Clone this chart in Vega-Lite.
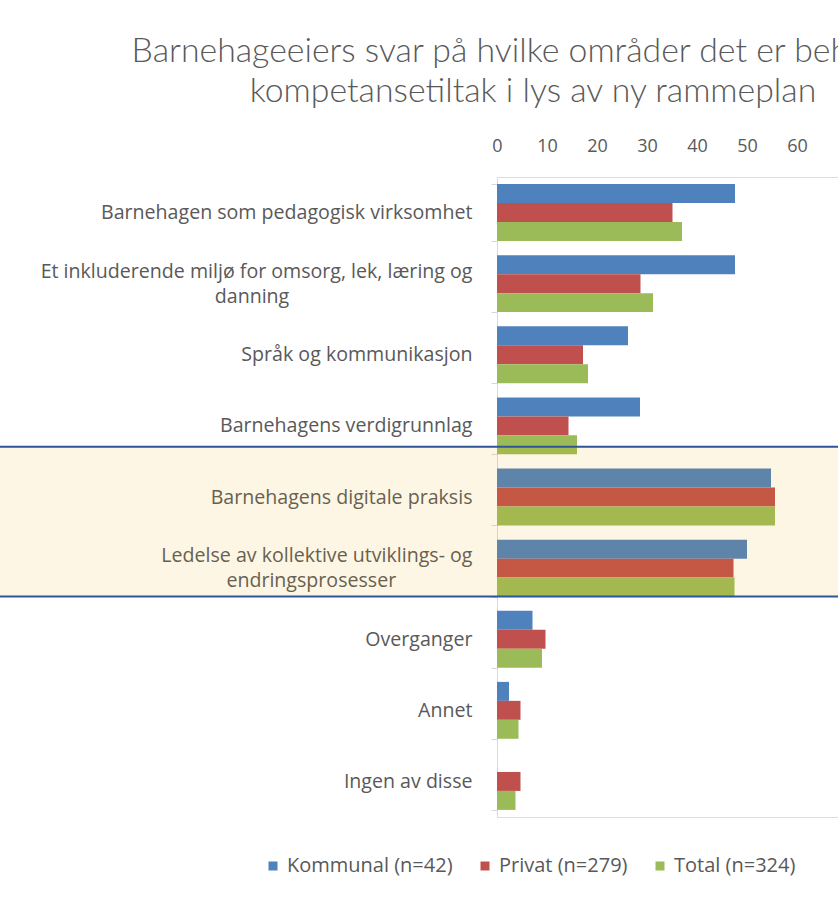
{
  "$schema": "https://vega.github.io/schema/vega-lite/v6.json",
  "autosize": {"type": "none"},
  "padding": {"left": 497, "top": 177, "right": 0, "bottom": 86},
  "width": 350,
  "height": 640,
  "background": "white",
  "title": {
    "text": ["Barnehageeiers svar på hvilke områder det er behov for", "kompetansetiltak i lys av ny rammeplan"],
    "font": "Lato",
    "fontSize": 33.8,
    "fontWeight": 300,
    "color": "#595959",
    "lineHeight": 40,
    "anchor": "middle",
    "dx": -139,
    "offset": 28
  },
  "data": {
    "values": [
      {"kategori": "Barnehagen som pedagogisk virksomhet", "gruppe": "Kommunal (n=42)", "prosent": 47.6},
      {"kategori": "Barnehagen som pedagogisk virksomhet", "gruppe": "Privat (n=279)", "prosent": 35.1},
      {"kategori": "Barnehagen som pedagogisk virksomhet", "gruppe": "Total (n=324)", "prosent": 37.0},
      {"kategori": "Et inkluderende miljø for omsorg, lek, læring og danning", "gruppe": "Kommunal (n=42)", "prosent": 47.6},
      {"kategori": "Et inkluderende miljø for omsorg, lek, læring og danning", "gruppe": "Privat (n=279)", "prosent": 28.7},
      {"kategori": "Et inkluderende miljø for omsorg, lek, læring og danning", "gruppe": "Total (n=324)", "prosent": 31.2},
      {"kategori": "Språk og kommunikasjon", "gruppe": "Kommunal (n=42)", "prosent": 26.2},
      {"kategori": "Språk og kommunikasjon", "gruppe": "Privat (n=279)", "prosent": 17.2},
      {"kategori": "Språk og kommunikasjon", "gruppe": "Total (n=324)", "prosent": 18.2},
      {"kategori": "Barnehagens verdigrunnlag", "gruppe": "Kommunal (n=42)", "prosent": 28.6},
      {"kategori": "Barnehagens verdigrunnlag", "gruppe": "Privat (n=279)", "prosent": 14.3},
      {"kategori": "Barnehagens verdigrunnlag", "gruppe": "Total (n=324)", "prosent": 16.0},
      {"kategori": "Barnehagens digitale praksis", "gruppe": "Kommunal (n=42)", "prosent": 54.8},
      {"kategori": "Barnehagens digitale praksis", "gruppe": "Privat (n=279)", "prosent": 55.6},
      {"kategori": "Barnehagens digitale praksis", "gruppe": "Total (n=324)", "prosent": 55.6},
      {"kategori": "Ledelse av kollektive utviklings- og endringsprosesser", "gruppe": "Kommunal (n=42)", "prosent": 50.0},
      {"kategori": "Ledelse av kollektive utviklings- og endringsprosesser", "gruppe": "Privat (n=279)", "prosent": 47.3},
      {"kategori": "Ledelse av kollektive utviklings- og endringsprosesser", "gruppe": "Total (n=324)", "prosent": 47.5},
      {"kategori": "Overganger", "gruppe": "Kommunal (n=42)", "prosent": 7.1},
      {"kategori": "Overganger", "gruppe": "Privat (n=279)", "prosent": 9.7},
      {"kategori": "Overganger", "gruppe": "Total (n=324)", "prosent": 9.0},
      {"kategori": "Annet", "gruppe": "Kommunal (n=42)", "prosent": 2.4},
      {"kategori": "Annet", "gruppe": "Privat (n=279)", "prosent": 4.7},
      {"kategori": "Annet", "gruppe": "Total (n=324)", "prosent": 4.3},
      {"kategori": "Ingen av disse", "gruppe": "Kommunal (n=42)", "prosent": 0},
      {"kategori": "Ingen av disse", "gruppe": "Privat (n=279)", "prosent": 4.7},
      {"kategori": "Ingen av disse", "gruppe": "Total (n=324)", "prosent": 3.7}
    ]
  },
  "layer": [
    {
      "mark": {"type": "bar"},
      "encoding": {
        "y": {
          "field": "kategori",
          "type": "nominal",
          "sort": null,
          "scale": {"paddingInner": 0.2, "paddingOuter": 0.1},
          "axis": {
            "title": null,
            "domainColor": "#D9D9D9",
            "domainWidth": 1,
            "tickColor": "#D9D9D9",
            "tickSize": 6,
            "tickBand": "extent",
            "labelFont": "Open Sans",
            "labelFontSize": 19.6,
            "labelColor": "#595959",
            "labelPadding": 19,
            "labelLineHeight": 25,
            "labelLimit": 500,
            "labelOffset": {
              "condition": {"test": "datum.value == 'Et inkluderende miljø for omsorg, lek, læring og danning' || datum.value == 'Ledelse av kollektive utviklings- og endringsprosesser'", "value": -12.5},
              "value": 0
            },
            "labelExpr": "datum.value == 'Et inkluderende miljø for omsorg, lek, læring og danning' ? ['Et inkluderende miljø for omsorg, lek, læring og', pad('danning', 43, '\u00a0', 'right') + '\u200b'] : datum.value == 'Ledelse av kollektive utviklings- og endringsprosesser' ? ['Ledelse av kollektive utviklings- og', pad('endringsprosesser', 32, '\u00a0', 'right') + '\u200b'] : datum.value"
          }
        },
        "yOffset": {"field": "gruppe", "type": "nominal", "scale": {"paddingInner": 0, "paddingOuter": 0}},
        "x": {
          "field": "prosent",
          "type": "quantitative",
          "scale": {"domain": [0, 70], "nice": false},
          "axis": {
            "orient": "top",
            "title": null,
            "values": [0, 10, 20, 30, 40, 50, 60],
            "domain": false,
            "ticks": false,
            "grid": false,
            "labelFlush": false,
            "labelFont": "Open Sans",
            "labelFontSize": 18,
            "labelColor": "#595959",
            "labelPadding": 22
          }
        },
        "color": {
          "field": "gruppe",
          "type": "nominal",
          "scale": {"range": ["#4F81BD", "#C0504D", "#9BBB59"]},
          "legend": {
            "title": null,
            "orient": "none",
            "direction": "horizontal",
            "legendX": -234,
            "legendY": 679,
            "symbolType": "square",
            "symbolSize": 81,
            "symbolStrokeWidth": 0,
            "labelFont": "Open Sans",
            "labelFontSize": 20,
            "labelColor": "#595959",
            "labelLimit": 400,
            "labelOffset": 4,
            "columnPadding": 22,
            "padding": 0
          }
        }
      }
    },
    {
      "data": {"values": [{"fremheving": "Barnehagens digitale praksis / Ledelse av kollektive utviklings- og endringsprosesser"}]},
      "mark": {"type": "rect", "fill": "#EAAA00", "fillOpacity": 0.1, "stroke": "#2F5597", "strokeWidth": 2, "strokeOpacity": 1, "clip": false},
      "encoding": {
        "y": {"datum": "Barnehagens verdigrunnlag", "bandPosition": 0.867},
        "y2": {"datum": "Ledelse av kollektive utviklings- og endringsprosesser", "bandPosition": 1},
        "x": {"datum": -100},
        "x2": {"datum": 80}
      }
    }
  ]
}
